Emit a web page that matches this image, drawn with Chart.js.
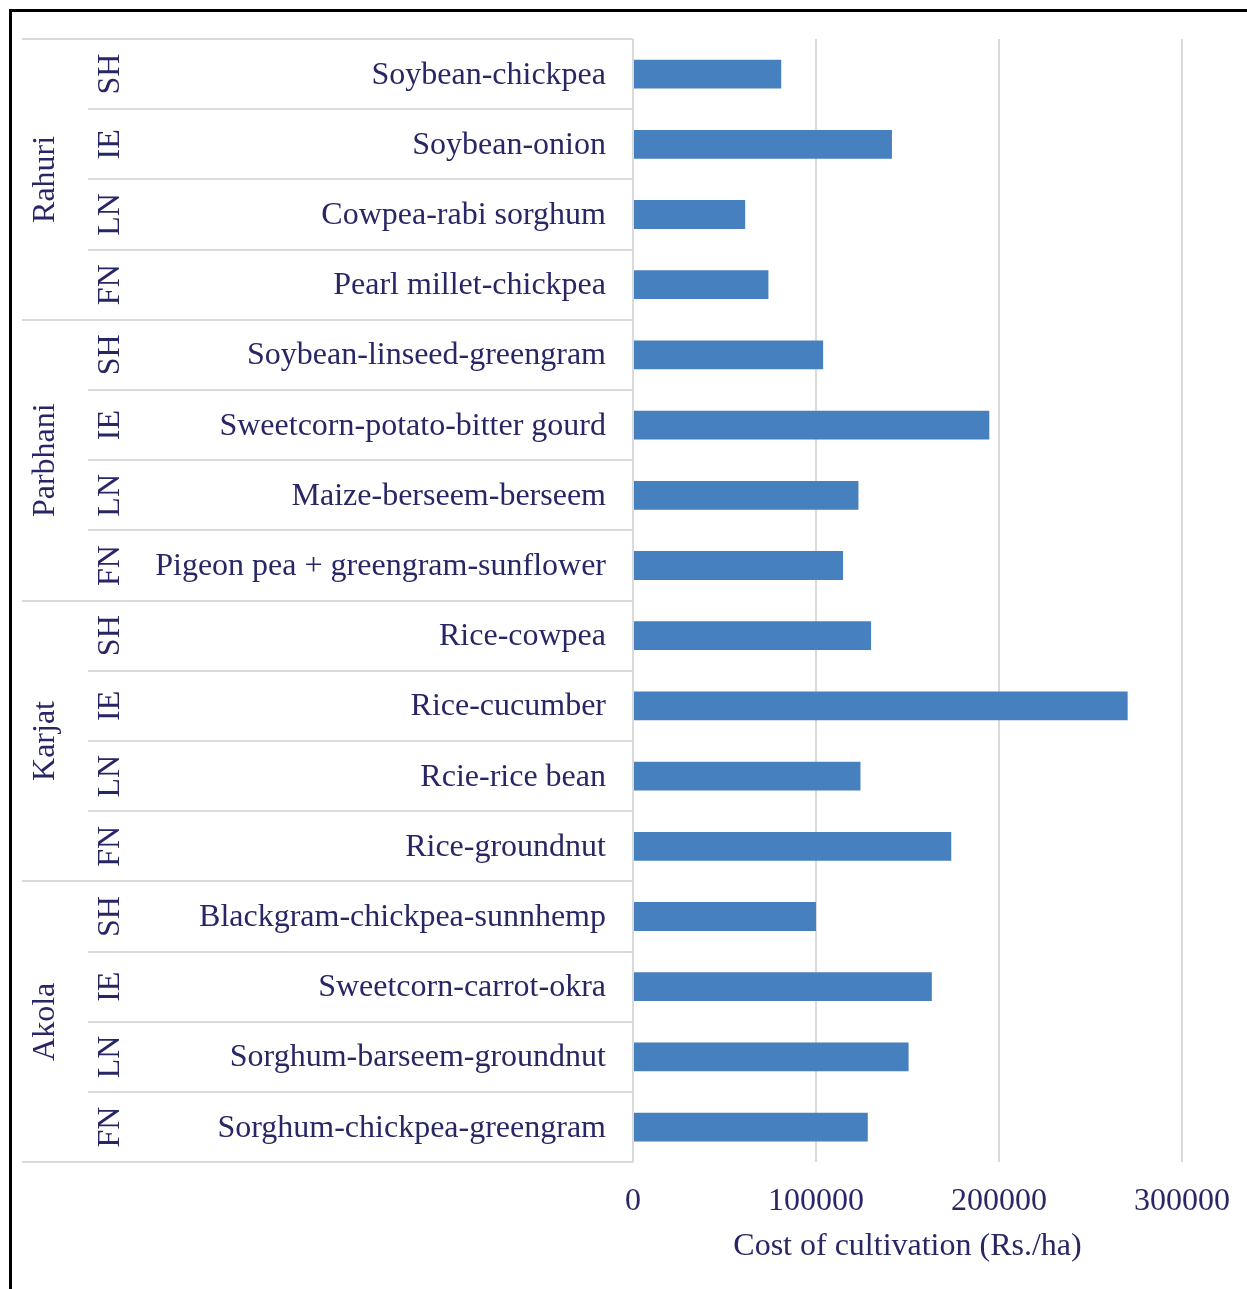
<!DOCTYPE html>
<html>
<head>
<meta charset="utf-8">
<title>Cost of cultivation</title>
<script src="https://cdn.jsdelivr.net/npm/chart.js@4"></script>
<style>
  html, body { margin: 0; padding: 0; background: #fff; overflow: hidden; }
  #wrap { position: relative; width: 1247px; height: 1289px; }
  #wrap canvas { position: absolute; left: 0; top: 0; }
  #frame {
    position: absolute; left: 9px; top: 9px; width: 1300px; height: 1300px;
    border-top: 3px solid #000; border-left: 3px solid #000;
    box-sizing: border-box; pointer-events: none;
  }
</style>
</head>
<body>
<div id="wrap">
  <canvas id="chart" width="1247" height="1289"></canvas>
  <div id="frame"></div>
</div>
<script>
// Locations (each spans four cropping systems, listed top to bottom)
const sites = ['Rahuri', 'Parbhani', 'Karjat', 'Akola'];
// Cropping-system codes within each location
const systems = ['SH', 'IE', 'LN', 'FN'];
// Cropping systems, top to bottom
const crops = [
  'Soybean-chickpea', 'Soybean-onion', 'Cowpea-rabi sorghum', 'Pearl millet-chickpea',
  'Soybean-linseed-greengram', 'Sweetcorn-potato-bitter gourd', 'Maize-berseem-berseem', 'Pigeon pea + greengram-sunflower',
  'Rice-cowpea', 'Rice-cucumber', 'Rcie-rice bean', 'Rice-groundnut',
  'Blackgram-chickpea-sunnhemp', 'Sweetcorn-carrot-okra', 'Sorghum-barseem-groundnut', 'Sorghum-chickpea-greengram'
];
// Cost of cultivation (Rs./ha)
const costs = [
  81000, 141500, 61300, 74000,
  103900, 194700, 123200, 114800,
  130100, 270300, 124300, 173900,
  100000, 163300, 150600, 128300
];
// Value-axis ticks
const xTicks = [0, 100000, 200000, 300000];
const xTitle = 'Cost of cultivation (Rs./ha)';

const INK = '#282766';
const RULE = '#dadada';
const FACE = '"Liberation Serif", "Times New Roman", serif';

// Draws the three-level category axis (location / code / cropping system) on the left
const groupedAxis = {
  id: 'groupedAxis',
  beforeDatasetsDraw(chart) {
    const ctx = chart.ctx, y = chart.scales.y, area = chart.chartArea;
    const n = crops.length;
    const step = y.getPixelForValue(1) - y.getPixelForValue(0);
    ctx.save();
    ctx.strokeStyle = RULE;
    ctx.lineWidth = 2;
    for (let i = 0; i <= n; i++) {
      const yy = Math.round((i < n ? y.getPixelForValue(i) : y.getPixelForValue(n - 1) + step) - step / 2);
      const full = i % systems.length === 0;
      ctx.beginPath();
      ctx.moveTo(full ? 22 : 88, yy);
      ctx.lineTo(area.left, yy);
      ctx.stroke();
    }
    ctx.beginPath();
    ctx.moveTo(area.left, area.top);
    ctx.lineTo(area.left, area.bottom);
    ctx.stroke();
    ctx.restore();
  },
  afterDraw(chart) {
    const ctx = chart.ctx, y = chart.scales.y;
    ctx.save();
    ctx.fillStyle = INK;
    ctx.font = '32px ' + FACE;
    ctx.textBaseline = 'middle';
    ctx.textAlign = 'right';
    crops.forEach((c, i) => ctx.fillText(c, 606, y.getPixelForValue(i) + 1));
    ctx.textAlign = 'center';
    crops.forEach((c, i) => {
      ctx.save();
      ctx.translate(111, y.getPixelForValue(i));
      ctx.rotate(-Math.PI / 2);
      ctx.fillText(systems[i % systems.length], 0, 0);
      ctx.restore();
    });
    sites.forEach((s, g) => {
      const first = g * systems.length;
      const mid = (y.getPixelForValue(first) + y.getPixelForValue(first + systems.length - 1)) / 2;
      ctx.save();
      ctx.translate(46, mid);
      ctx.rotate(-Math.PI / 2);
      ctx.fillText(s, 0, 0);
      ctx.restore();
    });
    ctx.restore();
  }
};

new Chart(document.getElementById('chart'), {
  type: 'bar',
  data: {
    labels: crops,
    datasets: [{
      label: xTitle,
      data: costs,
      backgroundColor: '#4780be',
      borderWidth: 0,
      barPercentage: 0.41,
      categoryPercentage: 1
    }]
  },
  options: {
    indexAxis: 'y',
    responsive: false,
    animation: false,
    layout: { padding: { left: 633, top: 39, right: 65, bottom: 23 } },
    plugins: { legend: { display: false }, tooltip: { enabled: false } },
    scales: {
      y: { type: 'category', display: false },
      x: {
        min: xTicks[0],
        max: xTicks[xTicks.length - 1],
        afterBuildTicks(scale) { scale.ticks = xTicks.map(v => ({ value: v })); },
        // the last tick label fits inside the right margin already
        afterFit(scale) { scale.paddingRight = 0; scale.paddingLeft = 0; },
        grid: { color: RULE, lineWidth: 2, drawTicks: false },
        border: { display: false },
        ticks: {
          color: INK,
          padding: 20,
          font: { family: FACE, size: 32 },
          callback: v => String(v)
        },
        title: {
          display: true,
          text: xTitle,
          color: INK,
          padding: { top: -13, bottom: 0 },
          font: { family: FACE, size: 32 }
        }
      }
    }
  },
  plugins: [groupedAxis]
});
</script>
</body>
</html>
